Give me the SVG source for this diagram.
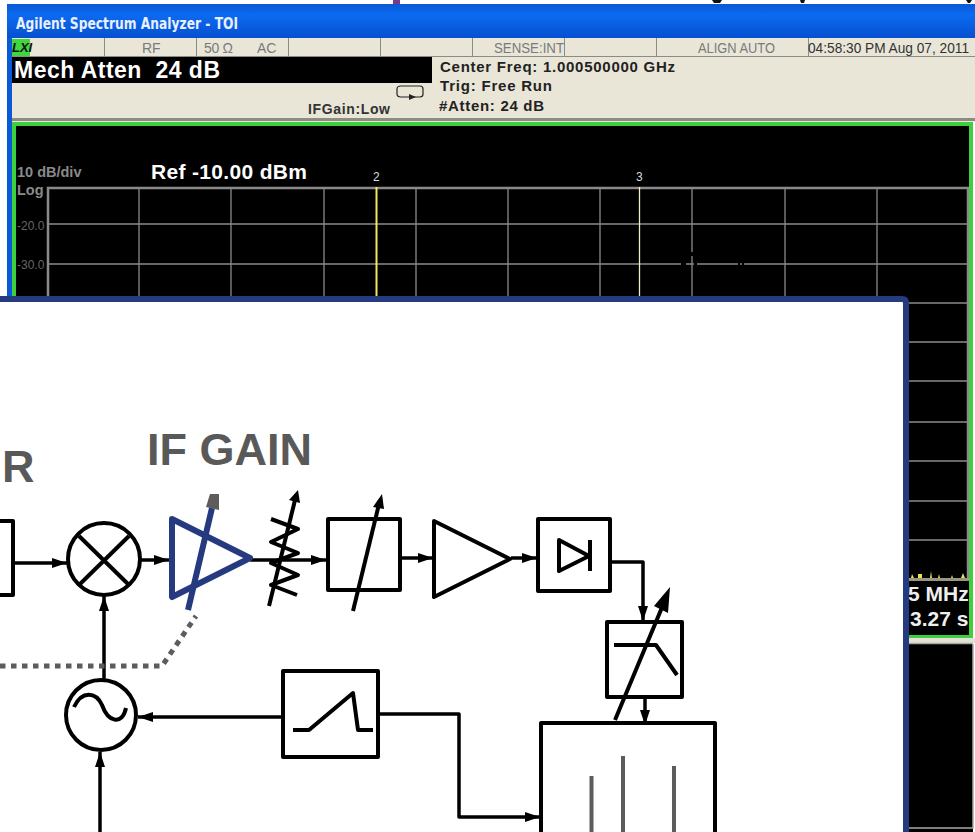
<svg xmlns="http://www.w3.org/2000/svg" width="975" height="832" viewBox="0 0 975 832">
<defs>
<linearGradient id="tb" x1="0" y1="0" x2="0" y2="1"><stop offset="0" stop-color="#0a5ad8"/><stop offset=".3" stop-color="#0c6af0"/><stop offset="1" stop-color="#0650d0"/></linearGradient>
<marker id="a" markerUnits="userSpaceOnUse" markerWidth="17" markerHeight="12" refX="15" refY="6" orient="auto"><path d="M0 1L15 6L0 11Z" fill="#000"/></marker>
</defs>
<style>
text{font-family:"Liberation Sans",Arial,sans-serif}
.s{font-size:14px;fill:#7a7a78}
.t{font-size:15px;font-weight:bold;fill:#222}
.g{stroke:#8a8a8a;stroke-width:1.3;fill:none}
.k{stroke:#000;stroke-width:4;fill:none;stroke-linejoin:round}
.c{stroke:#000;stroke-width:3.5;fill:none;stroke-linejoin:round}
.w{fill:#fff;stroke:#000;stroke-width:4;stroke-linejoin:round}
.n{fill:none;stroke:#263a80;stroke-width:6;stroke-linejoin:round}
.l{stroke:#5c5c5c;stroke-width:4;fill:none}
</style>
<rect width="975" height="832" fill="#fff"/>
<g id="screen">
<rect x="393" y="0" width="7" height="5" fill="#7a3a8c"/>
<path d="M712 0h10l-2 3h-6zM800 0h5l-1 3h-3zM966 0h6l-2 3h-2z" fill="#111"/>
<rect x="7" y="4" width="968" height="300" fill="#0a5ad8"/>
<rect x="7" y="5" width="968" height="33" fill="url(#tb)"/>
<text x="16" y="29" style="font-size:15px;font-weight:bold;fill:#e8f0ff;font-family:'DejaVu Sans Condensed','Liberation Sans Narrow',sans-serif" textLength="222" lengthAdjust="spacingAndGlyphs">Agilent Spectrum Analyzer - TOI</text>
<rect x="12" y="38" width="963" height="84" fill="#e9e6d8"/>
<rect x="12" y="39" width="18" height="17" fill="#3fd63f"/>
<text x="12" y="52" style="font-size:13px;font-weight:bold;font-style:italic;fill:#111">LXI</text>
<path d="M12 56.500H975M104.500 38V56M196.500 38V56M288.500 38V56M380.500 38V56M472.500 38V56M564.500 38V56M656.500 38V56M808.500 38V56" stroke="#8c8c86" stroke-width="1"/>
<text x="142" y="53" class="s">RF</text>
<text x="204" y="53" class="s" textLength="29">50 Ω</text>
<text x="257" y="53" class="s">AC</text>
<text x="494" y="53" class="s" textLength="70" lengthAdjust="spacingAndGlyphs">SENSE:INT</text>
<text x="698" y="53" class="s" textLength="77" lengthAdjust="spacingAndGlyphs">ALIGN AUTO</text>
<text x="808" y="53" style="font-size:14px;fill:#333" textLength="161" lengthAdjust="spacingAndGlyphs">04:58:30 PM Aug 07, 2011</text>
<rect x="12" y="57" width="420" height="26" fill="#000"/>
<text x="14" y="78" style="font-size:23px;font-weight:bold;fill:#fff" textLength="206" xml:space="preserve">Mech Atten  24 dB</text>
<text x="440" y="72" class="t" textLength="235">Center Freq: 1.000500000 GHz</text>
<text x="440" y="91" class="t" textLength="112">Trig: Free Run</text>
<text x="439" y="111" class="t" textLength="105">#Atten: 24 dB</text>
<text x="308" y="114" style="font-size:14px;font-weight:bold;fill:#333" textLength="82">IFGain:Low</text>
<path d="M401 86h19q3 0 3 3v5q0 3-3 3h-19q-4 0-4-3v-5q0-3 4-3z" fill="none" stroke="#222" stroke-width="1.200"/>
<path d="M403 97h6l0-3 7 3-7 3 0-3" fill="#222"/>
<rect x="12" y="118" width="963" height="3" fill="#8c8c84"/>
<rect x="973" y="122" width="2" height="710" fill="#fff"/>
<rect x="12" y="122" width="961" height="516" fill="#000"/>
<path d="M14 637V124H971V637H14" fill="none" stroke="#3ecf3e" stroke-width="4"/>
<rect x="12" y="638" width="963" height="5" fill="#e4e2d4"/>
<rect x="12" y="644" width="961" height="188" fill="#000"/>
<path d="M12 643.500H973M973 644V828H12" fill="none" stroke="#a8a8a0" stroke-width="1.500"/>
<text x="17" y="177" style="font-size:14.500px;font-weight:bold;fill:#8a8a8a">10 dB/div</text>
<text x="17" y="195" style="font-size:14.500px;font-weight:bold;fill:#8a8a8a">Log</text>
<text x="17" y="230" style="font-size:12px;fill:#666">-20.0</text>
<text x="17" y="269" style="font-size:12px;fill:#666">-30.0</text>
<text x="151" y="179" style="font-size:21px;font-weight:bold;fill:#fff" textLength="156">Ref -10.00 dBm</text>
<text x="373" y="181" style="font-size:12px;fill:#ddd">2</text>
<text x="636" y="181" style="font-size:12px;fill:#ddd">3</text>
<path class="g" d="M139 187V300M231 187V300M324 187V300M416 187V300M508 187V300M600 187V300M692 187V300M785 187V300M877 187V300M48 224H968M48 264H968M48 303H968M48 342H968M48 381H968M48 422H968M48 461H968M48 501H968M48 540H968"/>
<path d="M48 300V188H968V578" fill="none" stroke="#8a8a8a" stroke-width="2.500"/>
<path d="M376.500 187V300" stroke="#f0e860" stroke-width="2"/>
<path d="M639.500 187V300" stroke="#efeecc" stroke-width="1.300"/>
<path d="M681 264h5M694 264h3M738 264h2M742 264h2M692 252v4" stroke="#000" stroke-width="2"/>
<rect x="909" y="578" width="60" height="3" fill="#9a9780"/>
<path d="M911 578l1-4 2 4zM918 574h4v4h-4zM930 578l1-7 1 7zM938 578l1-4 1 4zM951 578l1-3 1 3zM961 578l2-5 2 5z" fill="#e8e050"/>
<text x="908" y="601" style="font-size:21px;font-weight:bold;fill:#eee">5 MHz</text>
<text x="910" y="626" style="font-size:21px;font-weight:bold;fill:#eee">3.27 s</text>
</g>
<g id="panel">
<path d="M-5 299H902Q906 299 906 303V837H-5Z" fill="#fff" stroke="#263a80" stroke-width="6"/>
</g>
<text x="147" y="465" style="font-size:45px;font-weight:bold;fill:#595959">IF GAIN</text>
<text x="2" y="482" style="font-size:45px;font-weight:bold;fill:#595959">R</text>
<g id="connectors">
<path class="c" d="M13 563H67" marker-end="url(#a)"/>
<path class="c" d="M141 560H169" marker-end="url(#a)"/>
<path class="c" d="M250 560H326" marker-end="url(#a)"/>
<path class="c" d="M400 558H433" marker-end="url(#a)"/>
<path class="c" d="M511 558H537" marker-end="url(#a)"/>
<path class="c" d="M611 562H643V621" marker-end="url(#a)"/>
<path class="c" d="M645 695V725" marker-end="url(#a)"/>
<path class="c" d="M104 680V596" marker-end="url(#a)"/>
<path class="c" d="M282 717H138" marker-end="url(#a)"/>
<path class="c" d="M100 832V752" marker-end="url(#a)"/>
<path class="c" d="M379 714H459V817H540" marker-end="url(#a)"/>
<path d="M0 666H162L196 616" fill="none" stroke="#5c5c5c" stroke-width="5" stroke-dasharray="5.500 5.500"/>
</g>
<g id="block-left"><path class="k" d="M0 521H13V595H0"/></g>
<g id="mixer"><circle class="k" cx="104" cy="559" r="36"/><path class="k" d="M79 536L129 585M129 536L79 585"/></g>
<g id="lo"><circle class="k" cx="101" cy="715" r="35"/><path class="k" d="M74 707C82 690 96 692 102 705C108 722 122 726 126 708"/></g>
<g id="if-gain-amp"><path class="n" d="M172 519L250 558L172 597Z"/><path d="M188 610L212 508" stroke="#263a80" stroke-width="6" fill="none"/><path d="M210 494L219 494L219 510L206 507Z" fill="#5c5c5c"/></g>
<g id="attenuator-resistor"><path class="k" d="M269 606L296 496"/><path d="M298 490L289 500L300 503Z" fill="#000"/><path class="k" d="M271 519L298 529L271 542L298 553L271 563L298 575L271 585L297 595"/></g>
<g id="filter-box"><rect class="w" x="328" y="519" width="72" height="71"/><path class="k" d="M353 611L380 500"/><path d="M382 494L373 507L384 509Z" fill="#000"/></g>
<g id="amp"><path class="k" d="M434 521L510 559L434 597Z"/></g>
<g id="detector"><rect class="k" x="538" y="519" width="72" height="72"/><path class="k" d="M559 540L589 556L559 571Z"/><path class="k" d="M590 540V571"/></g>
<g id="vbw-filter"><rect class="k" x="607" y="622" width="75" height="75"/><path class="k" d="M614 645H656L677 675"/></g>
<g id="display"><path class="k" d="M541 832V723H715V832"/><path class="l" d="M591.500 776V832M623 756V832M674 766V832"/></g>
<g id="sweep-line"><path class="k" d="M615 720L663 605"/><path d="M670 587L654 606L668 613Z" fill="#000"/></g>
<g id="ramp"><rect class="k" x="283" y="671" width="95" height="86"/><path class="k" d="M293 730H309L353 693L358 730H373"/></g>
</svg>
